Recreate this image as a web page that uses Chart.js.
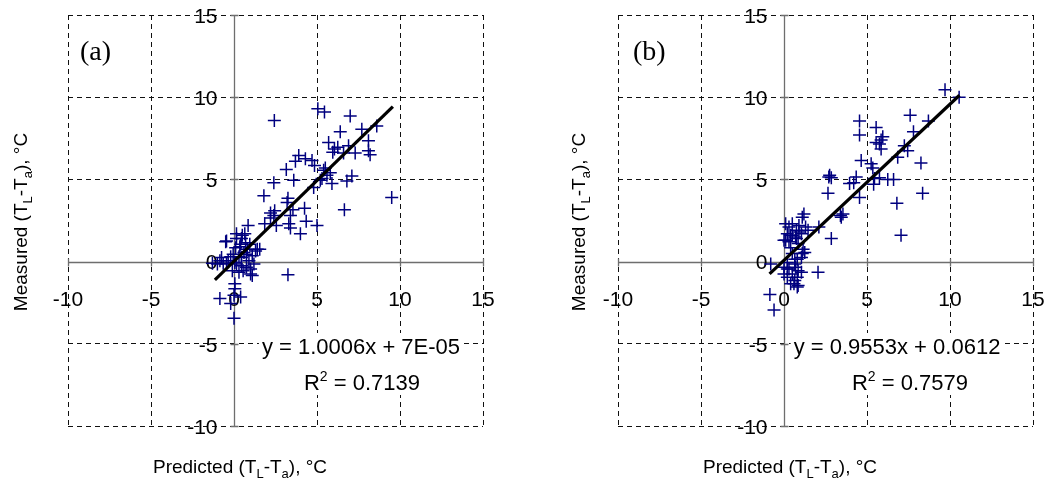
<!DOCTYPE html>
<html><head><meta charset="utf-8">
<script src="https://cdn.jsdelivr.net/npm/chart.js@4.4.1/dist/chart.umd.min.js"></script>
<style>
html,body{margin:0;padding:0;background:#fff;}
#wrap{position:relative;width:1048px;height:490px;overflow:hidden;}
canvas{position:absolute;top:0;}
</style></head><body>
<div id="wrap">
<canvas id="ca" width="530" height="490" style="left:0px"></canvas>
<canvas id="cb" width="518" height="490" style="left:530px"></canvas>
</div>
<script>
// ---- data ----
const axisTicks = [-10, -5, 0, 5, 10, 15];
const axisTickLabels = ['-10', '-5', '0', '5', '10', '15'];
const xTitleParts = [['Predicted (T', 0], ['L', 1], ['-T', 0], ['a', 1], ['), °C', 0]];
const yTitleParts = [['Measured (T', 0], ['L', 1], ['-T', 0], ['a', 1], ['), °C', 0]];

const panelALabel = '(a)';
const panelAEquation = 'y = 1.0006x + 7E-05';
const panelAR2 = ' = 0.7139';
const panelAX = [2.43,5.05,5.45,7.0,8.6,7.7,6.4,8.1,5.7,6.9,6.25,6.05,5.95,7.3,8.1,8.2,6.6,3.9,4.3,3.7,4.7,3.15,4.85,5.4,5.6,5.3,5.8,5.5,5.2,3.6,2.4,4.8,5.9,6.8,7.1,1.8,9.5,6.65,3.25,3.2,2.45,2.2,2.4,3.55,4.25,3.4,4.35,5.0,4.0,3.3,3.4,2.55,1.85,3.25,2.2,
  -1.3,-1.0,-0.85,-0.65,-0.45,-0.75,-0.5,-0.45,-0.35,-0.1,-0.05,0.05,0.1,0.15,0.15,0.15,0.3,0.35,0.4,0.45,0.5,0.45,0.45,0.55,0.6,0.65,0.7,0.75,0.75,0.8,0.85,0.9,0.95,1.0,1.0,1.1,1.1,1.2,1.3,1.4,1.55,0.05,-0.85,0.0,0.4,-0.2,0.0,0.05,0.3,-0.2];
const panelAY = [8.58,9.3,9.1,8.85,8.25,8.05,7.9,7.35,7.25,7.05,6.95,6.85,6.65,6.6,6.75,6.5,6.6,6.45,6.25,6.1,6.15,5.6,5.85,5.55,5.25,5.05,5.4,5.7,4.95,4.95,4.8,4.5,4.75,4.9,5.2,4.0,3.9,3.15,3.85,3.6,3.1,2.95,2.8,3.15,3.25,2.8,2.45,2.2,1.7,2.3,2.05,2.2,2.3,-0.8,2.65,
  -0.1,-0.15,0.05,-0.1,-0.15,0.25,1.2,1.25,0.05,-0.55,0.45,-0.05,0.85,1.4,1.7,-0.15,-0.65,0.9,1.05,1.4,1.6,0.25,-0.25,-0.55,0.55,1.7,1.15,0.45,-0.35,0.75,2.2,0.05,1.05,-0.45,-0.75,0.35,-0.85,-0.15,0.65,0.75,0.75,-1.35,-2.25,-2.05,-2.15,-2.55,-3.45,-1.65,0.3,0.3];
const panelATrendX = [-1.15, 9.57];
const panelATrendY = [-1.11, 9.43];

const panelBLabel = '(b)';
const panelBEquation = 'y = 0.9553x + 0.0612';
const panelBR2 = ' = 0.7579';
const panelBX = [9.7,10.55,7.6,8.7,4.55,5.55,4.55,7.8,5.95,5.85,5.55,5.75,5.85,7.25,7.45,6.85,4.65,5.25,5.35,8.25,2.75,2.85,2.7,4.35,4.2,3.95,5.45,5.75,5.4,6.25,6.6,2.65,4.55,8.35,6.8,3.55,3.45,3.4,2.1,2.85,7.05,2.05,
  0.1,0.5,0.9,0.75,0.2,0.5,1.05,1.45,0.0,0.3,0.75,0.85,0.4,1.15,1.25,1.05,0.65,0.2,0.0,0.3,0.65,0.85,0.0,0.2,0.5,1.05,0.65,0.85,0.4,0.3,0.4,0.7,0.9,1.1,1.2,1.3,0.1,0.5,1.1,0.8,0.2,0.7,0.8,0.6,0.8,-0.8,-0.85,-0.6];
const panelBY = [10.45,10.0,8.9,8.55,8.55,8.15,7.7,7.9,7.6,7.4,7.25,7.15,6.85,7.05,6.75,6.35,6.15,5.95,5.7,6.0,5.25,5.1,5.15,5.15,4.8,4.75,5.05,5.1,4.7,5.0,5.0,4.15,3.9,4.15,3.55,2.9,2.7,2.8,2.1,1.4,1.6,-0.65,
  2.3,2.3,2.2,1.9,1.7,1.6,1.7,1.9,1.3,1.2,1.4,1.1,0.85,0.75,0.55,0.25,0.15,-0.05,-0.35,-0.45,-0.15,-0.55,-0.75,-0.95,-0.75,-0.65,-1.15,-1.45,-1.35,2.1,1.6,1.5,1.8,2.7,2.9,2.1,1.3,0.5,0.5,0.15,-0.45,-0.35,-0.95,-1.35,-1.55,-0.15,-2.0,-2.95];
const panelBTrendX = [-0.87, 10.57];
const panelBTrendY = [-0.75, 10.12];

// ---- helpers ----
const SANS = '"Liberation Sans", Arial, sans-serif';
const SERIF = '"Liberation Serif", "Times New Roman", serif';
function zip(xs, ys) { return xs.map((x, i) => ({x: x, y: ys[i]})); }

function richWidth(ctx, parts, size, subSize) {
  let w = 0;
  for (const [t, s] of parts) {
    ctx.font = (s ? subSize : size) + 'px ' + SANS;
    w += ctx.measureText(t).width;
  }
  return w;
}
function drawRich(ctx, parts, cx, cy, size, subSize) {
  const w = richWidth(ctx, parts, size, subSize);
  let x = cx - w / 2;
  ctx.textBaseline = 'alphabetic';
  ctx.textAlign = 'left';
  const base = cy + size * 0.36;
  for (const [t, s] of parts) {
    ctx.font = (s ? subSize : size) + 'px ' + SANS;
    ctx.fillText(t, x, base + (s === 1 ? size * 0.28 : s === 2 ? -size * 0.42 : 0));
    x += ctx.measureText(t).width;
  }
}

function makeOverlay(cfg) {
  return {
    id: 'overlay',
    beforeDatasetsDraw(chart) {
      const ctx = chart.ctx;
      const xs = chart.scales.x, ys = chart.scales.y;
      const ca = chart.chartArea;
      const ax = Math.round(xs.getPixelForValue(0)) + 0.5;
      const ay = Math.round(ys.getPixelForValue(0)) + 0.5;
      ctx.save();
      // white box behind the trendline label
      ctx.font = '22px ' + SANS;
      const ew = ctx.measureText(cfg.eq).width;
      ctx.fillStyle = '#fff';
      ctx.fillRect(cfg.eqX - ew / 2 - 3, 333, ew + 6, 62);

      ctx.strokeStyle = '#6e6e6e';
      ctx.lineWidth = 1.3;
      ctx.beginPath();
      ctx.moveTo(ca.left, ay); ctx.lineTo(ca.right, ay);
      ctx.moveTo(ax, ca.top); ctx.lineTo(ax, ca.bottom);
      axisTicks.forEach(v => {
        const px = Math.round(xs.getPixelForValue(v)) + 0.5;
        const py = Math.round(ys.getPixelForValue(v)) + 0.5;
        ctx.moveTo(px, ay - 4); ctx.lineTo(px, ay + 4);
        ctx.moveTo(ax - 4, py); ctx.lineTo(ax + 4, py);
      });
      ctx.stroke();
      // tick labels
      ctx.fillStyle = '#000';
      ctx.font = '21px ' + SANS;
      ctx.textBaseline = 'middle';
      ctx.textAlign = 'center';
      axisTicks.forEach((v, i) => {
        ctx.fillText(axisTickLabels[i], xs.getPixelForValue(v), ay + 38);
      });
      ctx.textAlign = 'right';
      axisTicks.forEach((v, i) => {
        ctx.fillText(axisTickLabels[i], ax - 17, ys.getPixelForValue(v) + 2);
      });
      // panel label
      ctx.font = '28px ' + SERIF;
      ctx.textAlign = 'left';
      ctx.textBaseline = 'middle';
      ctx.fillText(cfg.label, ca.left + cfg.labelDx, 53);
      // equation
      ctx.font = '22px ' + SANS;
      ctx.textAlign = 'center';
      ctx.fillText(cfg.eq, cfg.eqX, 348);
      drawRich(ctx, [['R', 0], ['2', 2], [cfg.r2, 0]], cfg.r2X, 382, 22, 14);
      // axis titles
      drawRich(ctx, xTitleParts, cfg.xTitleX, 466, 19, 13);
      ctx.save();
      ctx.translate(cfg.yTitleX, 222);
      ctx.rotate(-Math.PI / 2);
      drawRich(ctx, yTitleParts, 0, 0, 19, 13);
      ctx.restore();
      ctx.restore();
    }
  };
}

function makeChart(id, pts, trend, pad, cfg) {
  return new Chart(document.getElementById(id), {
    type: 'scatter',
    data: {
      datasets: [
        { type: 'line', data: trend, borderColor: '#000', borderWidth: 3.2, pointRadius: 0, fill: false, tension: 0 },
        { data: pts, pointStyle: 'cross', pointRadius: 6.5, borderColor: '#00007f', backgroundColor: '#00007f', pointBorderWidth: 1.5, borderWidth: 1.5 }
      ]
    },
    options: {
      responsive: false,
      animation: false,
      events: [],
      layout: { padding: pad, autoPadding: false },
      plugins: { legend: { display: false }, tooltip: { enabled: false } },
      scales: {
        x: {
          type: 'linear', min: -10, max: 15,
          ticks: { stepSize: 5, display: false },
          grid: { drawTicks: false, lineWidth: 1, color: c => (c.tick && c.tick.value === 0) ? 'rgba(0,0,0,0)' : '#111' },
          border: { display: false, dash: [5, 4] }
        },
        y: {
          type: 'linear', min: -10, max: 15,
          ticks: { stepSize: 5, display: false },
          grid: { drawTicks: false, lineWidth: 1, color: c => (c.tick && c.tick.value === 0) ? 'rgba(0,0,0,0)' : '#111' },
          border: { display: false, dash: [5, 4] }
        }
      }
    },
    plugins: [makeOverlay(cfg)]
  });
}

makeChart('ca', zip(panelAX, panelAY), zip(panelATrendX, panelATrendY),
  { left: 68, right: 47, top: 15, bottom: 64 },
  { label: panelALabel, labelDx: 12, eq: panelAEquation, r2: panelAR2, eqX: 361, r2X: 362, xTitleX: 240, yTitleX: 20 });
makeChart('cb', zip(panelBX, panelBY), zip(panelBTrendX, panelBTrendY),
  { left: 88, right: 15, top: 15, bottom: 64 },
  { label: panelBLabel, labelDx: 15, eq: panelBEquation, r2: panelBR2, eqX: 367, r2X: 380, xTitleX: 260, yTitleX: 48 });
</script>
</body></html>
